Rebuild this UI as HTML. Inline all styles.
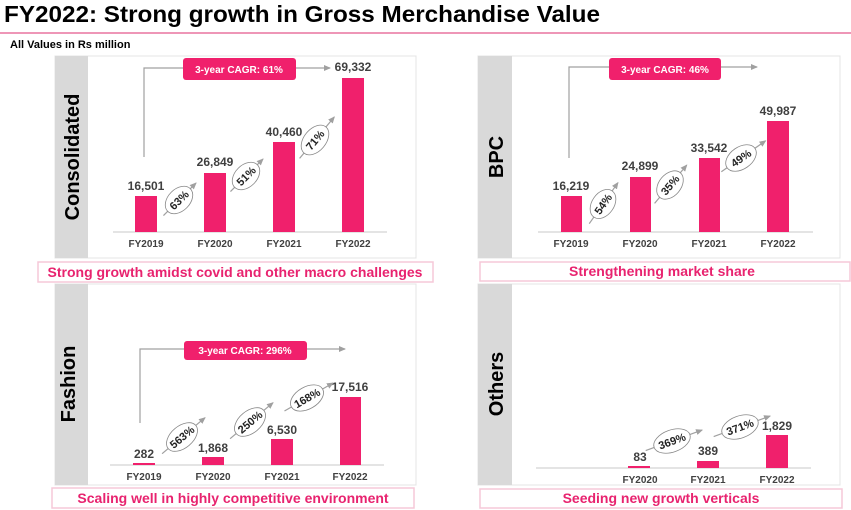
<!DOCTYPE html>
<html><head><meta charset="utf-8"><style>
html,body{margin:0;padding:0;background:#fff;}
svg{display:block;font-family:"Liberation Sans",Arial,sans-serif;}
.v{font-size:12px;font-weight:bold;fill:#404040;text-anchor:middle}
.x{font-size:10px;font-weight:bold;fill:#404040;text-anchor:middle}
.p{font-size:11px;font-weight:bold;fill:#222;text-anchor:middle}
.c{font-size:10px;font-weight:bold;fill:#fff;text-anchor:middle}
.cap{font-size:14px;font-weight:bold;fill:#e8236f;text-anchor:middle}
.side{font-size:20px;font-weight:bold;fill:#000;text-anchor:middle}
.bar{fill:#f0206c}
.ax{stroke:#c8c8c8;stroke-width:1}
.arr{stroke:#a0a0a0;stroke-width:1.2;fill:none}
.el{fill:#fff;stroke:#888;stroke-width:0.8}
.capbox{fill:#fff;stroke:#f6c8d8;stroke-width:1.5}
</style></head><body>
<svg width="851" height="510" viewBox="0 0 851 510">
<defs><marker id="ah" markerWidth="8" markerHeight="8" refX="6" refY="4" orient="auto" markerUnits="userSpaceOnUse"><path d="M0,1 L7,4 L0,7 z" fill="#a0a0a0"/></marker></defs>
<text x="4" y="22" font-size="23" font-weight="bold" fill="#000" textLength="596" lengthAdjust="spacingAndGlyphs">FY2022: Strong growth in Gross Merchandise Value</text>
<line x1="0" y1="33" x2="851" y2="33" stroke="#e8739f" stroke-width="1.5"/>
<text x="10" y="48" font-size="11" font-weight="bold" fill="#000">All Values in Rs million</text>

<!-- Panel 1 -->
<rect x="55" y="56" width="361" height="202" fill="#fff" stroke="#e4e4e4"/>
<rect x="55" y="56" width="33" height="202" fill="#d9d9d9"/>
<text class="side" transform="translate(79,157) rotate(-90)">Consolidated</text>
<line class="ax" x1="113" y1="232" x2="387" y2="232"/>
<rect class="bar" x="135" y="196" width="22" height="36"/>
<rect class="bar" x="204" y="173" width="22" height="59"/>
<rect class="bar" x="273" y="142" width="22" height="90"/>
<rect class="bar" x="342" y="78" width="22" height="154"/>
<text class="v" x="146" y="190">16,501</text><text class="v" x="215" y="166">26,849</text><text class="v" x="284" y="136">40,460</text><text class="v" x="353" y="71">69,332</text>
<text class="x" x="146" y="247">FY2019</text><text class="x" x="215" y="247">FY2020</text><text class="x" x="284" y="247">FY2021</text><text class="x" x="353" y="247">FY2022</text>
<path class="arr" d="M144,157 V68 H330" marker-end="url(#ah)"/>
<rect x="183" y="58" width="113" height="22" rx="3" fill="#f0206c"/>
<text class="c" x="239" y="73">3-year CAGR: 61%</text>
<g transform="translate(179,200) rotate(-45)"><line class="arr" x1="-22" y1="0" x2="24" y2="0" marker-end="url(#ah)"/><ellipse class="el" rx="16" ry="11"/><text class="p" y="4">63%</text></g>
<g transform="translate(246,176) rotate(-45)"><line class="arr" x1="-22" y1="0" x2="24" y2="0" marker-end="url(#ah)"/><ellipse class="el" rx="16" ry="11"/><text class="p" y="4">51%</text></g>
<g transform="translate(315,140) rotate(-50)"><line class="arr" x1="-24" y1="0" x2="30" y2="0" marker-end="url(#ah)"/><ellipse class="el" rx="17" ry="11"/><text class="p" y="4">71%</text></g>
<rect class="capbox" x="38" y="262" width="395" height="20"/>
<text class="cap" x="235" y="277">Strong growth amidst covid and other macro challenges</text>

<!-- Panel 2 -->
<rect x="478" y="56" width="362" height="202" fill="#fff" stroke="#e4e4e4"/>
<rect x="478" y="56" width="34" height="202" fill="#d9d9d9"/>
<text class="side" transform="translate(503,157) rotate(-90)">BPC</text>
<line class="ax" x1="538" y1="232" x2="813" y2="232"/>
<rect class="bar" x="561" y="196" width="21" height="36"/>
<rect class="bar" x="630" y="177" width="21" height="55"/>
<rect class="bar" x="699" y="158" width="21" height="74"/>
<rect class="bar" x="767" y="121" width="22" height="111"/>
<text class="v" x="571" y="190">16,219</text><text class="v" x="640" y="170">24,899</text><text class="v" x="709" y="152">33,542</text><text class="v" x="778" y="115">49,987</text>
<text class="x" x="571" y="247">FY2019</text><text class="x" x="640" y="247">FY2020</text><text class="x" x="709" y="247">FY2021</text><text class="x" x="778" y="247">FY2022</text>
<path class="arr" d="M569,158 V67 H757" marker-end="url(#ah)"/>
<rect x="609" y="58" width="112" height="22" rx="3" fill="#f0206c"/>
<text class="c" x="665" y="73">3-year CAGR: 46%</text>
<g transform="translate(603,204) rotate(-55)"><line class="arr" x1="-24" y1="0" x2="26" y2="0" marker-end="url(#ah)"/><ellipse class="el" rx="16" ry="11"/><text class="p" y="4">54%</text></g>
<g transform="translate(670,185) rotate(-50)"><line class="arr" x1="-24" y1="0" x2="26" y2="0" marker-end="url(#ah)"/><ellipse class="el" rx="16" ry="11"/><text class="p" y="4">35%</text></g>
<g transform="translate(741,158) rotate(-35)"><line class="arr" x1="-24" y1="0" x2="30" y2="0" marker-end="url(#ah)"/><ellipse class="el" rx="17" ry="11"/><text class="p" y="4">49%</text></g>
<rect class="capbox" x="480" y="262" width="370" height="19"/>
<text class="cap" x="662" y="276">Strengthening market share</text>

<!-- Panel 3 -->
<rect x="55" y="284" width="361" height="201" fill="#fff" stroke="#e4e4e4"/>
<rect x="55" y="284" width="33" height="201" fill="#d9d9d9"/>
<text class="side" transform="translate(75,384) rotate(-90)">Fashion</text>
<line class="ax" x1="110" y1="465" x2="384" y2="465"/>
<rect class="bar" x="133" y="463" width="22" height="2"/>
<rect class="bar" x="202" y="457" width="22" height="8"/>
<rect class="bar" x="271" y="439" width="22" height="26"/>
<rect class="bar" x="340" y="397" width="21" height="68"/>
<text class="v" x="144" y="458">282</text><text class="v" x="213" y="452">1,868</text><text class="v" x="282" y="434">6,530</text><text class="v" x="350" y="391">17,516</text>
<text class="x" x="144" y="480">FY2019</text><text class="x" x="213" y="480">FY2020</text><text class="x" x="282" y="480">FY2021</text><text class="x" x="350" y="480">FY2022</text>
<path class="arr" d="M140,423 V349 H345" marker-end="url(#ah)"/>
<rect x="184" y="341" width="123" height="19" rx="3" fill="#f0206c"/>
<text class="c" x="245" y="354">3-year CAGR: 296%</text>
<g transform="translate(182,437) rotate(-40)"><line class="arr" x1="-26" y1="0" x2="30" y2="0" marker-end="url(#ah)"/><ellipse class="el" rx="18" ry="11"/><text class="p" y="4">563%</text></g>
<g transform="translate(250,422) rotate(-40)"><line class="arr" x1="-26" y1="0" x2="30" y2="0" marker-end="url(#ah)"/><ellipse class="el" rx="18" ry="11"/><text class="p" y="4">250%</text></g>
<g transform="translate(307,398) rotate(-30)"><line class="arr" x1="-26" y1="0" x2="30" y2="0" marker-end="url(#ah)"/><ellipse class="el" rx="18" ry="11"/><text class="p" y="4">168%</text></g>
<rect class="capbox" x="52" y="488" width="362" height="20"/>
<text class="cap" x="233" y="503">Scaling well in highly competitive environment</text>

<!-- Panel 4 -->
<rect x="478" y="284" width="362" height="201" fill="#fff" stroke="#e4e4e4"/>
<rect x="478" y="284" width="34" height="201" fill="#d9d9d9"/>
<text class="side" transform="translate(503,384) rotate(-90)">Others</text>
<line class="ax" x1="536" y1="468" x2="811" y2="468"/>
<rect class="bar" x="628" y="466" width="22" height="2"/>
<rect class="bar" x="697" y="461" width="22" height="7"/>
<rect class="bar" x="766" y="435" width="22" height="33"/>
<text class="v" x="640" y="461">83</text><text class="v" x="708" y="455">389</text><text class="v" x="777" y="430">1,829</text>
<text class="x" x="640" y="483">FY2020</text><text class="x" x="708" y="483">FY2021</text><text class="x" x="777" y="483">FY2022</text>
<g transform="translate(672,441) rotate(-20)"><line class="arr" x1="-28" y1="0" x2="32" y2="0" marker-end="url(#ah)"/><ellipse class="el" rx="19" ry="11"/><text class="p" y="4">369%</text></g>
<g transform="translate(740,427) rotate(-20)"><line class="arr" x1="-28" y1="0" x2="32" y2="0" marker-end="url(#ah)"/><ellipse class="el" rx="19" ry="11"/><text class="p" y="4">371%</text></g>
<rect class="capbox" x="480" y="489" width="362" height="19"/>
<text class="cap" x="661" y="503">Seeding new growth verticals</text>
</svg>
</body></html>
